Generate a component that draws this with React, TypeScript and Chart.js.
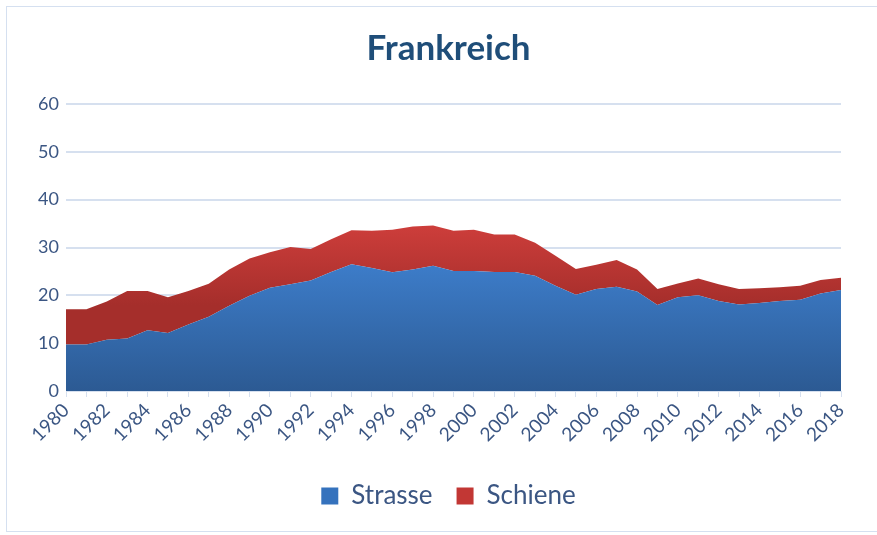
import React, { useEffect, useRef } from "react";
import { Chart, registerables } from "chart.js";

Chart.register(...registerables);

const years: string[] = [];
for (let y = 1980; y <= 2018; y++) years.push(String(y));

const strasse = [
  9.7, 9.7, 10.7, 11.0, 12.7, 12.1, 13.9, 15.5, 17.8, 19.9,
  21.6, 22.3, 23.1, 24.9, 26.5, 25.7, 24.8, 25.4, 26.2, 25.1,
  25.1, 24.9, 24.9, 24.1, 22.0, 20.1, 21.3, 21.8, 20.8, 18.0,
  19.6, 20.0, 18.8, 18.1, 18.4, 18.8, 19.1, 20.4, 21.1,
];
const schiene = [
  7.4, 7.4, 8.0, 9.9, 8.2, 7.5, 7.0, 6.9, 7.6, 7.8,
  7.4, 7.8, 6.6, 6.8, 7.1, 7.8, 8.9, 9.0, 8.4, 8.4,
  8.6, 7.8, 7.8, 6.9, 6.3, 5.4, 5.1, 5.6, 4.6, 3.3,
  2.9, 3.5, 3.5, 3.2, 3.1, 2.9, 2.9, 2.8, 2.6,
];

const FONT = "Lato, 'Open Sans', sans-serif";
const TEXT = "#3b5683";

function grad(chart: any, top: number, bottom: number, c1: string, c2: string, fallback: string) {
  const area = chart.chartArea;
  const ys = chart.scales?.y;
  if (!area || !ys) return fallback;
  const g = chart.ctx.createLinearGradient(0, ys.getPixelForValue(top), 0, ys.getPixelForValue(bottom));
  g.addColorStop(0, c1);
  g.addColorStop(1, c2);
  return g;
}

export default function App() {
  const ref = useRef<HTMLCanvasElement>(null);
  useEffect(() => {
    const chart = new Chart(ref.current!, {
      type: "line",
      data: {
        labels: years,
        datasets: [
          {
            label: "Strasse",
            data: strasse,
            fill: "origin",
            borderWidth: 0,
            pointRadius: 0,
            tension: 0,
            borderColor: "rgba(0,0,0,0)",
            backgroundColor: (ctx: any) => grad(ctx.chart, 27, 0, "#3d7dca", "#2c5a93", "#3570b5"),
          },
          {
            label: "Schiene",
            data: schiene,
            fill: "-1",
            borderWidth: 0,
            pointRadius: 0,
            tension: 0,
            borderColor: "rgba(0,0,0,0)",
            backgroundColor: (ctx: any) => grad(ctx.chart, 35, 18, "#ce3e3b", "#a52e2b", "#b83532"),
          },
        ],
      },
      options: {
        animation: false,
        responsive: false,
        layout: { padding: { left: 20, right: 0, top: 0, bottom: 16 } },
        plugins: {
          title: {
            display: true,
            text: "Frankreich",
            color: "#1f4e79",
            font: { family: FONT, size: 35, weight: "bold" },
            padding: { top: 28, bottom: 34 },
          },
          legend: {
            position: "bottom",
            labels: {
              color: TEXT,
              font: { family: FONT, size: 26 },
              boxWidth: 17,
              boxHeight: 17,
              padding: 24,
              generateLabels: (chart: any) =>
                chart.data.datasets.map((d: any, i: number) => ({
                  text: d.label,
                  fillStyle: i === 0 ? "#3572bd" : "#c23734",
                  strokeStyle: "rgba(0,0,0,0)",
                  lineWidth: 0,
                  datasetIndex: i,
                  fontColor: TEXT,
                })),
            },
          },
          tooltip: { enabled: false },
        },
        scales: {
          x: {
            offset: false,
            grid: { display: true, drawOnChartArea: false, drawTicks: true, tickLength: 6, color: "#d6e0ef" },
            border: { display: true, color: "#d6e0ef" },
            ticks: {
              autoSkip: false,
              maxRotation: 45,
              minRotation: 45,
              color: TEXT,
              padding: 2,
              font: { family: FONT, size: 19 },
              callback: (v: any, i: number) => (i % 2 === 0 ? years[i] : ""),
            },
            afterFit: (axis: any) => { axis.height = 68; },
          },
          y: {
            stacked: true,
            min: 0,
            max: 60,
            ticks: { stepSize: 10, color: TEXT, padding: 7, font: { family: FONT, size: 18 } },
            grid: { color: "#d6e0ef", lineWidth: 2, drawTicks: false },
            border: { display: false },
            afterFit: (axis: any) => { axis.width = 46; },
          },
          yRight: {
            position: "right",
            display: true,
            min: 0,
            max: 60,
            grid: { display: false, drawTicks: false },
            border: { display: false },
            ticks: { display: false },
            afterFit: (axis: any) => { axis.width = 36; },
          },
        },
      },
    } as any);
    return () => chart.destroy();
  }, []);
  return (
    <div style={{ position: "fixed", left: 0, top: 0, width: 877, height: 535, background: "#fff" }}>
      <div style={{ position: "absolute", left: 6, top: 6, width: 880, height: 526, border: "1.5px solid #d5e0f0", boxSizing: "border-box" }} />
      <canvas ref={ref} width={877} height={535} style={{ position: "absolute", left: 0, top: 0 }} />
    </div>
  );
}
